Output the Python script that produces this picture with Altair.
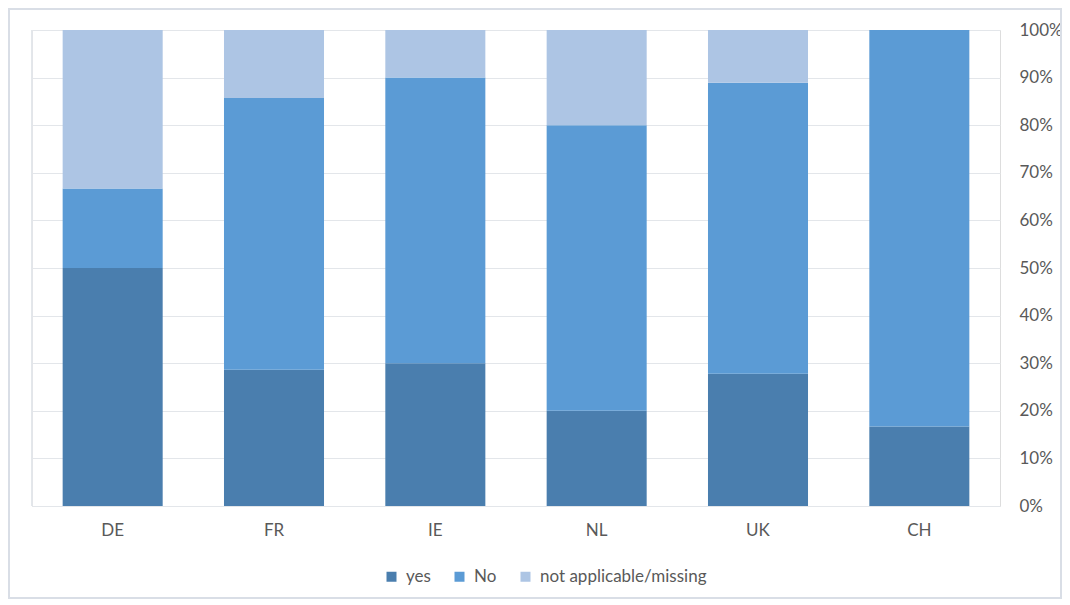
import altair as alt
import pandas as pd

countries = ["DE", "FR", "IE", "NL", "UK", "CH"]
series = ["yes", "No", "not applicable/missing"]
yes_vals = [50.0, 28.6, 30.0, 20.0, 27.8, 16.7]
no_vals = [16.7, 57.1, 60.0, 60.0, 61.1, 83.3]
na_vals = [33.3, 14.3, 10.0, 20.0, 11.1, 0.0]
colors = ["#4a7eae", "#5b9bd5", "#adc5e4"]
y_ticks = [i / 10 for i in range(11)]

rows = []
for s_i, (s, vals) in enumerate(zip(series, [yes_vals, no_vals, na_vals])):
    for c, v in zip(countries, vals):
        rows.append({"country": c, "series": s, "value": v, "idx": s_i})
df = pd.DataFrame(rows)

W, H = 968, 476
FONT = "Lato"
TXT = "#595959"
FS = 17

bars = alt.Chart(df).mark_bar().encode(
    x=alt.X("country:N", sort=countries,
            scale=alt.Scale(paddingInner=0.38, paddingOuter=0.19),
            axis=alt.Axis(title=None, labelAngle=0, ticks=False, domain=False,
                          labelPadding=16, labelFontSize=FS, labelColor=TXT, labelFont=FONT)),
    y=alt.Y("value:Q", stack="normalize",
            scale=alt.Scale(domain=[0, 1]),
            axis=alt.Axis(title=None, orient="right", values=y_ticks, format=".0%",
                          ticks=False, domain=False, labelPadding=19,
                          labelFontSize=FS, labelColor=TXT, labelFont=FONT,
                          gridColor="#e3e6ea", gridWidth=1)),
    color=alt.Color("series:N",
                    scale=alt.Scale(domain=series, range=colors),
                    legend=alt.Legend(title=None, orient="none", direction="horizontal",
                                      legendX=351, legendY=538, symbolType="square",
                                      symbolSize=100, symbolStrokeWidth=0,
                                      labelFontSize=FS, labelColor=TXT, labelFont=FONT,
                                      labelLimit=400,
                                      columnPadding=20, symbolOffset=0, labelOffset=6)),
    order=alt.Order("idx:Q", sort="ascending"),
)

left_line = alt.Chart(df).mark_rule(color="#e3e6ea", strokeWidth=1).encode(
    x=alt.value(0), y=alt.value(0), y2=alt.value(H)
)

border = alt.Chart(df).mark_rect(fill=None, stroke="#d9dee6", strokeWidth=2).encode(
    x=alt.value(-23), x2=alt.value(W + 61), y=alt.value(-21), y2=alt.value(H + 92)
)

chart = alt.layer(border, left_line, bars).properties(
    width=W, height=H,
    padding={"left": 24, "top": 22, "right": 62, "bottom": 95},
    autosize=alt.AutoSizeParams(type="none"),
).configure_view(stroke=None).configure(background="white")

chart.save("out.html", embed_options={"renderer": "svg", "actions": False})
